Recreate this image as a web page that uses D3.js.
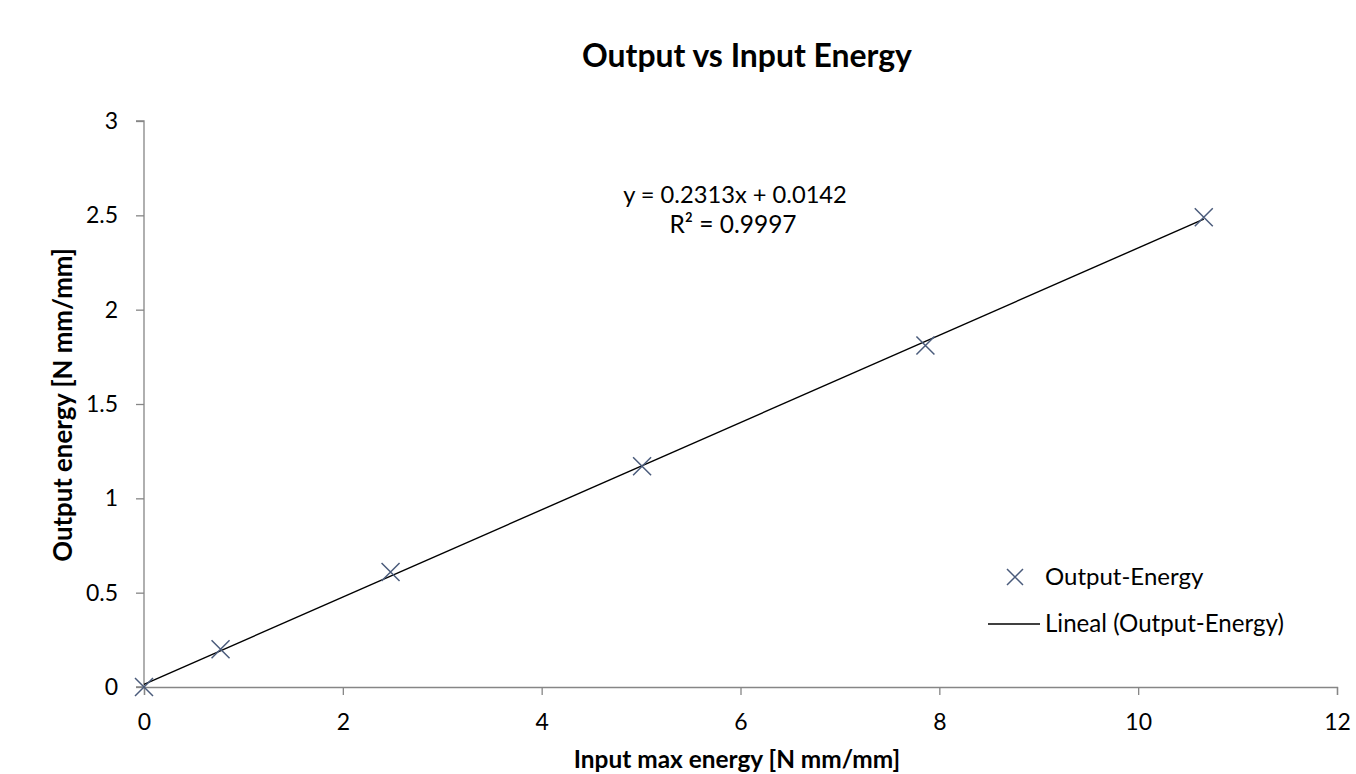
<!DOCTYPE html>
<html>
<head>
<meta charset="utf-8">
<script src="https://cdn.jsdelivr.net/npm/d3@7"></script>
<style>
  body { margin: 0; background: #fff; }
  text { font-family: Lato, "Open Sans", "Liberation Sans", sans-serif; fill: #000; }
</style>
</head>
<body>
<div id="chart"></div>
<script>
// data
var inputEnergy  = [0, 0.77, 2.48, 5.01, 7.86, 10.66];
var outputEnergy = [0, 0.20, 0.61, 1.17, 1.81, 2.49];
var xTicks = [0, 2, 4, 6, 8, 10, 12];
var yTicks = [0, 0.5, 1, 1.5, 2, 2.5, 3];
var slope = 0.2313, intercept = 0.0142;

var W = 1356, H = 774;
var margin = {top: 121, right: 19, bottom: 87, left: 144};
var width = W - margin.left - margin.right,
    height = H - margin.top - margin.bottom;

var svg = d3.select("#chart").append("svg")
    .attr("width", W).attr("height", H);

var g = svg.append("g")
    .attr("transform", "translate(" + margin.left + "," + margin.top + ")");

var x = d3.scaleLinear().domain([0, 12]).range([0, width]);
var y = d3.scaleLinear().domain([0, 3]).range([height, 0]);

// shrink/grow a label's font so it spans about the same width as in the picture
function fit(sel, target) {
  var size = parseFloat(sel.style("font-size"));
  var len = sel.node().getComputedTextLength();
  sel.style("font-size", (size * target / len).toFixed(1) + "px");
  return sel;
}

// axes
var xAxis = g.append("g")
    .attr("transform", "translate(0," + height + ")")
    .call(d3.axisBottom(x).tickValues(xTicks).tickSize(8).tickPadding(19).tickFormat(d3.format("")));
var yAxis = g.append("g")
    .call(d3.axisLeft(y).tickValues(yTicks).tickSize(8).tickPadding(18).tickFormat(d3.format("")));

[xAxis, yAxis].forEach(function(a) {
  a.select(".domain").attr("stroke", "#868686").attr("stroke-width", 1.3);
  a.selectAll(".tick line").attr("stroke", "#868686").attr("stroke-width", 1.3);
  a.selectAll(".tick text").style("font-size", "23px").attr("fill", "#000");
});
yAxis.select(".domain").attr("d", "M-8," + height + "H0V0H-8");

// trend line
var xMax = d3.max(inputEnergy);
g.append("line")
    .attr("x1", x(0)).attr("y1", y(intercept))
    .attr("x2", x(xMax)).attr("y2", y(slope * xMax + intercept))
    .attr("stroke", "#000").attr("stroke-width", 1.4);

// markers
function cross(sel, s) {
  sel.append("path")
    .attr("d", "M" + (-s) + "," + (-s) + "L" + s + "," + s + "M" + (-s) + "," + s + "L" + s + "," + (-s))
    .attr("stroke", "#4a5b7b").attr("stroke-width", 1.5).attr("fill", "none");
}
var pts = inputEnergy.map(function(d, i) { return {x: d, y: outputEnergy[i]}; });
g.selectAll(".pt").data(pts).enter().append("g")
    .attr("class", "pt")
    .attr("transform", function(d) { return "translate(" + x(d.x) + "," + y(d.y) + ")"; })
    .each(function() { cross(d3.select(this), 9); });

// equation
fit(svg.append("text").attr("x", 735).attr("y", 203)
    .attr("text-anchor", "middle").style("font-size", "20px")
    .text("y = 0.2313x + 0.0142"), 224);
fit(svg.append("text").attr("x", 733).attr("y", 233)
    .attr("text-anchor", "middle").style("font-size", "20px")
    .text("R² = 0.9997"), 127);

// title
fit(svg.append("text").attr("x", 747).attr("y", 67)
    .attr("text-anchor", "middle").style("font-size", "30px").style("font-weight", "bold")
    .text("Output vs Input Energy"), 330);

// axis titles
fit(svg.append("text").attr("x", 737).attr("y", 768)
    .attr("text-anchor", "middle").style("font-size", "20px").style("font-weight", "bold")
    .text("Input max energy [N mm/mm]"), 326);
fit(svg.append("text")
    .attr("transform", "translate(72,405) rotate(-90)")
    .attr("text-anchor", "middle").style("font-size", "20px").style("font-weight", "bold")
    .text("Output energy [N mm/mm]"), 314);

// legend
var leg = svg.append("g");
var l1 = leg.append("g").attr("transform", "translate(1015,577)");
cross(l1, 8);
fit(leg.append("text").attr("x", 1045).attr("y", 585).style("font-size", "20px").text("Output-Energy"), 158);
leg.append("line").attr("x1", 988).attr("x2", 1040).attr("y1", 624).attr("y2", 624)
    .attr("stroke", "#000").attr("stroke-width", 1.4);
fit(leg.append("text").attr("x", 1045).attr("y", 632).style("font-size", "20px").text("Lineal (Output-Energy)"), 239);
</script>
</body>
</html>
